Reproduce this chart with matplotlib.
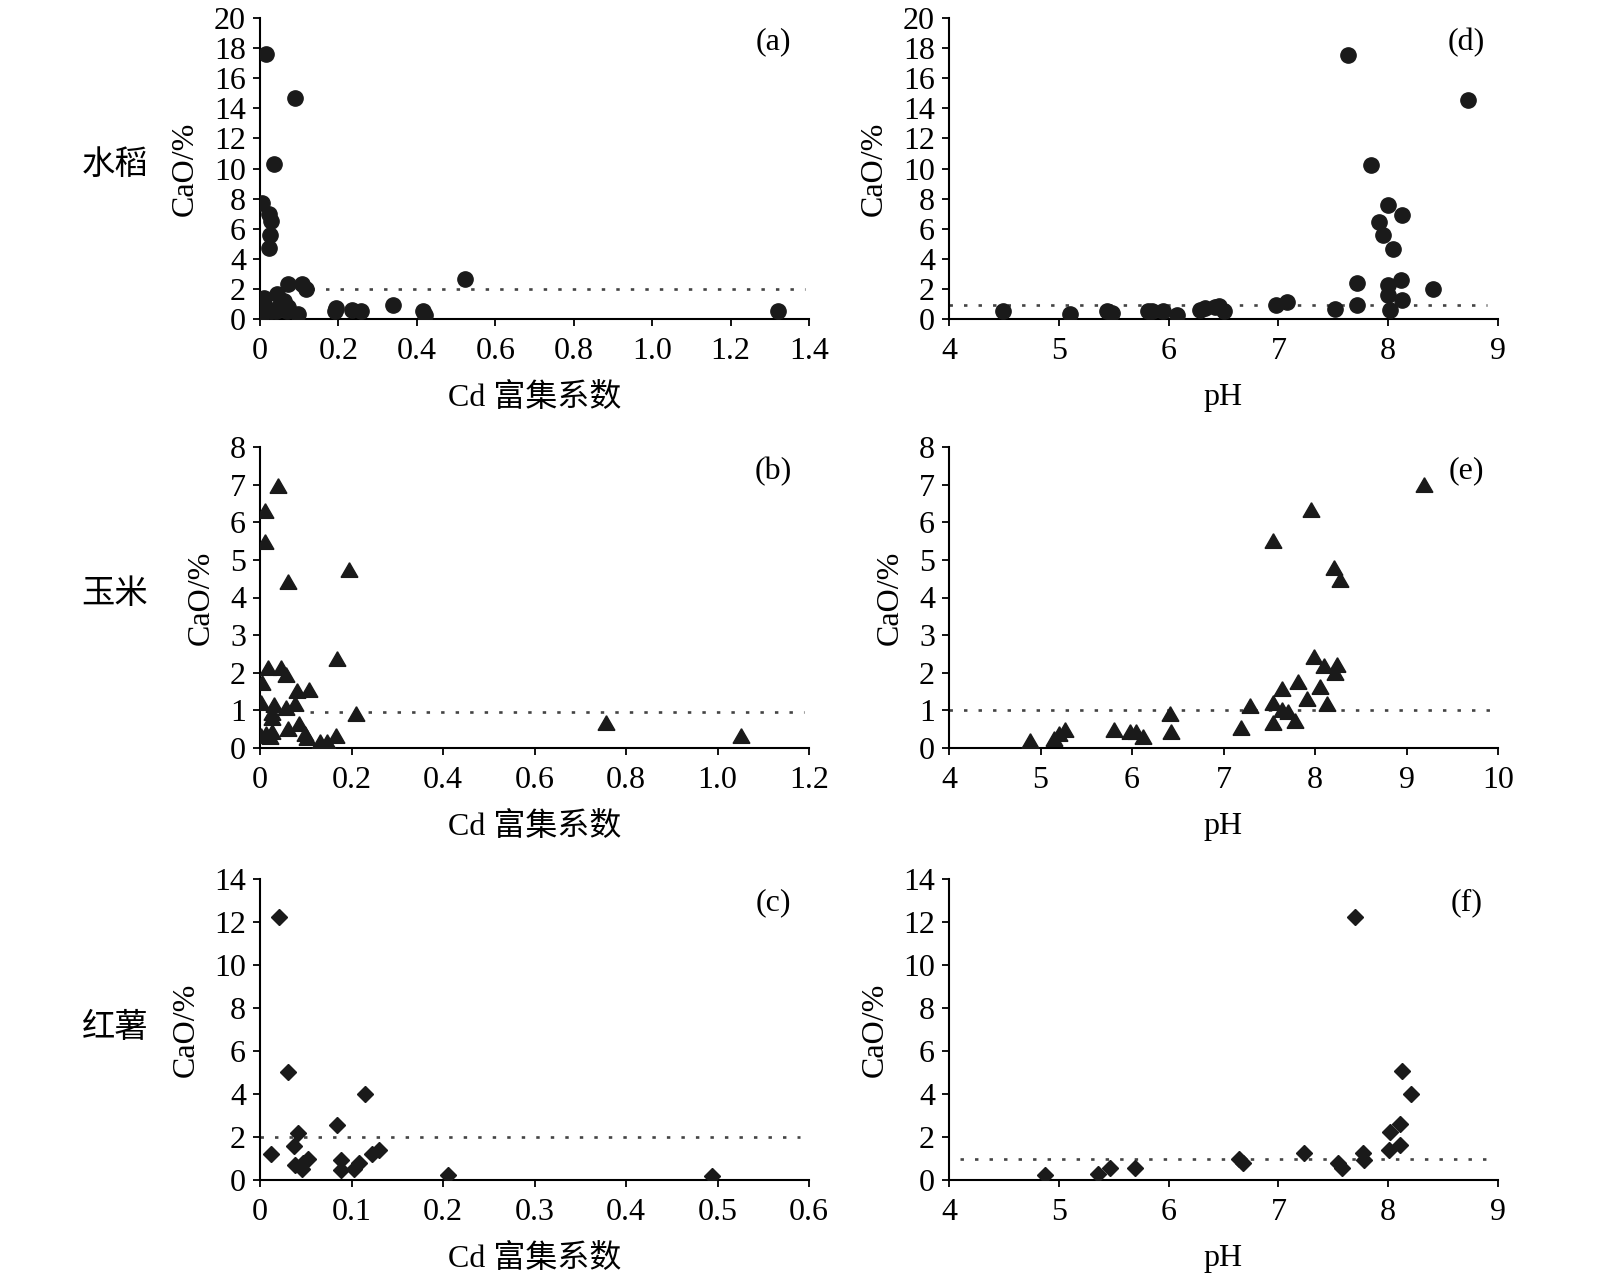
import matplotlib
matplotlib.use("Agg")
import matplotlib.pyplot as plt
from matplotlib.ticker import FixedLocator

plt.rcParams['font.family'] = ['Liberation Serif', 'Noto Sans CJK SC']

# ---------------- data ----------------
# (a) rice: Cd enrichment factor vs CaO
rice_cd = [0.016, 0.088, 0.035, 0.006, 0.024, 0.028, 0.025, 0.022, 0.072, 0.108,
           0.118, 0.523, 0.043, 0.010, 0.060, 0.072, 0.014, 0.028, 0.040, 0.068,
           0.097, 0.008, 0.190, 0.193, 0.234, 0.258, 0.340, 0.416, 0.420, 1.320,
           0.005, 0.050]
rice_cao_a = [17.6, 14.7, 10.3, 7.7, 7.0, 6.5, 5.6, 4.7, 2.35, 2.3,
              2.0, 2.65, 1.65, 1.4, 1.2, 0.8, 0.85, 0.5, 0.5, 0.5,
              0.3, 0.4, 0.5, 0.7, 0.6, 0.5, 0.92, 0.5, 0.25, 0.5,
              0.9, 0.9]
# (d) rice: pH vs CaO
rice_ph = [4.49, 5.10, 5.44, 5.48, 5.81, 5.85, 5.95, 6.08, 6.29, 6.33,
           6.42, 6.46, 6.50, 6.98, 7.08, 7.52, 7.63, 7.72, 7.72, 7.84,
           7.92, 7.95, 8.00, 8.04, 8.00, 8.00, 8.02, 8.12, 8.13, 8.13,
           8.41, 8.73]
rice_cao_d = [0.51, 0.33, 0.51, 0.40, 0.51, 0.51, 0.51, 0.29, 0.58, 0.73,
              0.82, 0.89, 0.51, 0.93, 1.11, 0.69, 17.56, 2.36, 0.91, 10.2,
              6.44, 5.56, 7.6, 4.67, 2.24, 1.62, 0.58, 2.62, 6.89, 1.29,
              2.02, 14.58]
# (b) maize: Cd enrichment factor vs CaO
maize_cd = [0.040, 0.011, 0.011, 0.194, 0.062, 0.169, 0.018, 0.046, 0.056, 0.004,
            0.080, 0.108, 0.002, 0.030, 0.056, 0.076, 0.026, 0.026, 0.210, 0.756,
            0.086, 0.062, 0.014, 0.026, 0.022, 0.002, 0.099, 0.103, 0.167, 0.131,
            0.147, 1.052]
maize_cao_b = [6.9, 6.24, 5.42, 4.68, 4.36, 2.32, 2.08, 2.08, 1.9, 1.67,
               1.47, 1.49, 1.15, 1.08, 1.0, 1.12, 0.89, 0.74, 0.85, 0.61,
               0.58, 0.44, 0.33, 0.36, 0.24, 0.27, 0.31, 0.2, 0.27, 0.1,
               0.1, 0.27]
# (e) maize: pH vs CaO
maize_ph = [9.19, 7.96, 7.54, 8.21, 8.27, 7.99, 8.10, 8.24, 8.22, 7.81,
            7.64, 8.06, 7.91, 7.54, 7.29, 8.13, 7.64, 7.70, 7.78, 7.54,
            7.19, 6.42, 6.43, 5.80, 5.98, 6.04, 6.12, 5.27, 5.20, 5.15,
            4.89]
maize_cao_e = [6.93, 6.26, 5.46, 4.73, 4.42, 2.36, 2.13, 2.15, 1.94, 1.71,
               1.52, 1.56, 1.25, 1.15, 1.07, 1.12, 0.95, 0.91, 0.67, 0.62,
               0.49, 0.85, 0.36, 0.42, 0.36, 0.36, 0.24, 0.42, 0.31, 0.18,
               0.13]
# (c) sweet potato: Cd enrichment factor vs CaO
potato_cd = [0.021, 0.031, 0.115, 0.084, 0.042, 0.037, 0.012, 0.130, 0.122, 0.038,
             0.052, 0.047, 0.046, 0.088, 0.088, 0.103, 0.108, 0.205, 0.494]
potato_cao_c = [12.22, 5.03, 3.98, 2.56, 2.2, 1.58, 1.23, 1.38, 1.2, 0.71,
                0.96, 0.78, 0.53, 0.93, 0.47, 0.5, 0.78, 0.25, 0.19]
# (f) sweet potato: pH vs CaO
potato_ph = [7.70, 8.13, 8.21, 8.11, 8.02, 8.11, 8.01, 7.77, 7.78, 7.54,
             7.58, 7.23, 6.64, 6.68, 5.69, 5.47, 5.36, 4.87]
potato_cao_f = [12.22, 5.05, 3.99, 2.59, 2.24, 1.61, 1.4, 1.27, 0.93, 0.78,
                0.57, 1.27, 0.99, 0.81, 0.54, 0.54, 0.3, 0.23]

# reference (dotted) lines: y value and x extent
ref_a = (2.0, 0.13, 1.39)
ref_b = (0.95, 0.11, 1.19)
ref_c = (2.0, 0.0, 0.59)
ref_d = (0.9, 4.0, 8.9)
ref_e = (1.0, 4.0, 10.0)
ref_f = (1.0, 4.1, 8.9)

row_labels = ['水稻', '玉米', '红薯']
panel_tags = ['(a)', '(b)', '(c)', '(d)', '(e)', '(f)']
xlabel_cd = 'Cd 富集系数'
xlabel_ph = 'pH'
ylabel = 'CaO/%'

xt_a = [0, 0.2, 0.4, 0.6, 0.8, 1.0, 1.2, 1.4]
xtl_a = ['0', '0.2', '0.4', '0.6', '0.8', '1.0', '1.2', '1.4']
xt_b = [0, 0.2, 0.4, 0.6, 0.8, 1.0, 1.2]
xtl_b = ['0', '0.2', '0.4', '0.6', '0.8', '1.0', '1.2']
xt_c = [0, 0.1, 0.2, 0.3, 0.4, 0.5, 0.6]
xtl_c = ['0', '0.1', '0.2', '0.3', '0.4', '0.5', '0.6']
xt_d = [4, 5, 6, 7, 8, 9]
xt_e = [4, 5, 6, 7, 8, 9, 10]
xt_f = [4, 5, 6, 7, 8, 9]
yt_row1 = list(range(0, 21, 2))
yt_row2 = list(range(0, 9, 1))
yt_row3 = list(range(0, 15, 2))

# ---------------- figure ----------------
W, H = 1600, 1280
fig = plt.figure(figsize=(16, 12.8), dpi=100)

def ax_at(x0, x1, ybot, ytop):
    return fig.add_axes([x0 / W, 1 - ybot / H, (x1 - x0) / W, (ybot - ytop) / H])

FS = 23
tri = (3, 0, 0)

def style(ax, xt, xtl, yt, xlab, tag, tagx):
    for s in ['top', 'right']:
        ax.spines[s].set_visible(False)
    for s in ['left', 'bottom']:
        ax.spines[s].set_linewidth(1.5)
    ax.set_xlim(xt[0], xt[-1])
    ax.set_ylim(yt[0], yt[-1])
    ax.xaxis.set_major_locator(FixedLocator(xt))
    ax.set_xticklabels(xtl)
    ax.yaxis.set_major_locator(FixedLocator(yt))
    ax.set_yticklabels([str(v) for v in yt])
    ax.tick_params(direction='out', length=5, width=1.3, labelsize=FS)
    ax.tick_params(axis='x', pad=8)
    ax.tick_params(axis='y', pad=5)
    ax.set_xlabel(xlab, fontsize=FS, labelpad=12)
    ax.set_ylabel(ylabel, fontsize=FS, labelpad=10)
    ax.text(tagx, 0.92, tag, transform=ax.transAxes, fontsize=FS,
            ha='center', va='center')

def refline(ax, r):
    ax.plot([r[1], r[2]], [r[0], r[0]], linestyle=(0, (1.3, 4.2)),
            color='#444444', linewidth=1.9, zorder=1)

rows = [(319, 18), (748, 447), (1180, 879)]
LX0, LX1 = 260, 809
RX0, RX1 = 949, 1498

# row 1
ax = ax_at(LX0, LX1, *rows[0])
refline(ax, ref_a)
ax.plot(rice_cd, rice_cao_a, 'o', color='#1a1a1a', ms=11, mec='#1a1a1a', zorder=3)
style(ax, xt_a, xtl_a, yt_row1, xlabel_cd, panel_tags[0], 0.935)

ax = ax_at(RX0, RX1, *rows[0])
refline(ax, ref_d)
ax.plot(rice_ph, rice_cao_d, 'o', color='#1a1a1a', ms=11, mec='#1a1a1a', zorder=3)
style(ax, xt_d, [str(v) for v in xt_d], yt_row1, xlabel_ph, panel_tags[3], 0.942)

# row 2
ax = ax_at(LX0, LX1, *rows[1])
refline(ax, ref_b)
ax.plot(maize_cd, maize_cao_b, marker=tri, linestyle='none', color='#1a1a1a', ms=14, zorder=3)
style(ax, xt_b, xtl_b, yt_row2, xlabel_cd, panel_tags[1], 0.935)

ax = ax_at(RX0, RX1, *rows[1])
refline(ax, ref_e)
ax.plot(maize_ph, maize_cao_e, marker=tri, linestyle='none', color='#1a1a1a', ms=14, zorder=3)
style(ax, xt_e, [str(v) for v in xt_e], yt_row2, xlabel_ph, panel_tags[4], 0.942)

# row 3
ax = ax_at(LX0, LX1, *rows[2])
refline(ax, ref_c)
ax.plot(potato_cd, potato_cao_c, 'D', color='#1a1a1a', ms=8.5, zorder=3)
style(ax, xt_c, xtl_c, yt_row3, xlabel_cd, panel_tags[2], 0.935)

ax = ax_at(RX0, RX1, *rows[2])
refline(ax, ref_f)
ax.plot(potato_ph, potato_cao_f, 'D', color='#1a1a1a', ms=8.5, zorder=3)
style(ax, xt_f, [str(v) for v in xt_f], yt_row3, xlabel_ph, panel_tags[5], 0.942)

# row labels
for lab, yc in zip(row_labels, [166, 595, 1028]):
    fig.text(115 / W, 1 - yc / H, lab, fontsize=FS + 1, ha='center', va='center')

fig.savefig('out.png', dpi=100)
